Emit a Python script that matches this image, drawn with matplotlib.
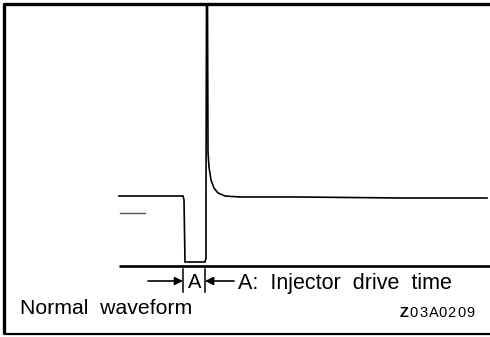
import matplotlib
matplotlib.use("Agg")
import matplotlib.pyplot as plt

plt.rcParams['font.family'] = ['Liberation Sans', 'DejaVu Sans']

# Waveform (time units, level units)
wave_t = [119, 183, 184, 185, 205, 206, 206, 206.5, 207.5, 208, 209, 211, 214, 218, 225, 240, 300, 400, 487]
wave_v = [196, 196, 200, 262, 262, 258, 196, 4, 4, 152, 167, 180, 188, 193, 196, 197, 197, 198, 198]
# small reference dash
dash_t = [120, 145]
dash_v = [213, 213]
# baseline (zero level)
base_t = [119, 490]
base_v = [266, 266]
# injector drive time markers
drive_start, drive_end = 183, 205

title_label = "Normal  waveform"
annot_label = "A:  Injector  drive  time"
code_label = "Z03A0209"

fig = plt.figure(figsize=(4.9, 3.37), dpi=100)
ax = fig.add_axes([0, 0, 1, 1])
ax.set_xlim(0, 490)
ax.set_ylim(337, 0)
ax.axis('off')

# frame
ax.plot([4, 4, 490], [334, 4, 4], color='black', lw=2.4, solid_capstyle='butt')
ax.plot([4, 490], [334, 334], color='black', lw=1.6, solid_capstyle='butt')

ax.plot(base_t, base_v, color='black', lw=1.9, solid_capstyle='butt')
ax.plot(dash_t, dash_v, color='#555555', lw=1.0)
ax.plot(wave_t, wave_v, color='black', lw=1.2, solid_joinstyle='miter')

# markers
for x in (drive_start, drive_end):
    ax.plot([x, x], [269, 292], color='black', lw=1.1)
ax.text((drive_start + drive_end) / 2 + 0.5, 283, "A", fontsize=14.5, ha='center', va='center')
ax.annotate("", xy=(drive_start, 281), xytext=(148, 281),
            arrowprops=dict(arrowstyle='-|>', color='black', lw=1.2, mutation_scale=12,
                            shrinkA=0, shrinkB=0))
ax.annotate("", xy=(drive_end, 281), xytext=(234, 281),
            arrowprops=dict(arrowstyle='-|>', color='black', lw=1.2, mutation_scale=12,
                            shrinkA=0, shrinkB=0))
ax.text(238, 283, annot_label, fontsize=15.5, ha='left', va='center')
ax.text(20, 309, title_label, fontsize=15.3, ha='left', va='center')

x0 = 400
for i, ch in enumerate(code_label):
    ax.text(x0 + i * 9.5, 313, ch, fontsize=10.5, ha='left', va='center',
            fontweight='bold' if i == 0 else 'normal')

fig.savefig("out.png", dpi=100)
